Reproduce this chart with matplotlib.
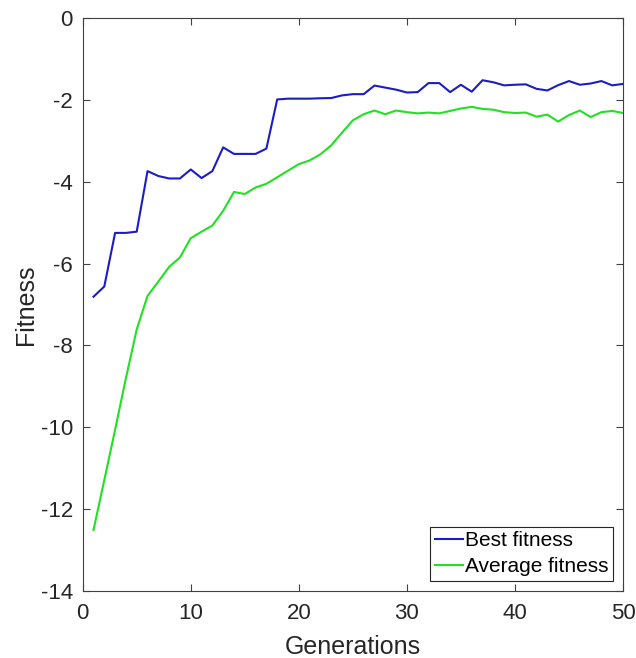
import matplotlib
matplotlib.use('Agg')
import matplotlib.pyplot as plt

plt.rcParams['font.family'] = ['Liberation Sans', 'DejaVu Sans']
plt.rcParams['axes.unicode_minus'] = False

# values, one per generation
generations = list(range(1, 51))
best_fitness = [-6.81, -6.56, -5.25, -5.25, -5.22, -3.74, -3.86, -3.92, -3.92, -3.70,
                -3.91, -3.74, -3.16, -3.32, -3.32, -3.32, -3.19, -1.99, -1.97, -1.97,
                -1.97, -1.96, -1.955, -1.89, -1.86, -1.86, -1.65, -1.70, -1.75, -1.82,
                -1.81, -1.59, -1.59, -1.81, -1.63, -1.80, -1.52, -1.57, -1.645, -1.63,
                -1.62, -1.73, -1.77, -1.64, -1.54, -1.63, -1.60, -1.54, -1.645, -1.61]
avg_fitness = [-12.51, -11.29, -10.06, -8.80, -7.61, -6.79, -6.44, -6.08, -5.85, -5.38,
               -5.22, -5.07, -4.71, -4.25, -4.30, -4.14, -4.05, -3.89, -3.73, -3.57,
               -3.48, -3.33, -3.11, -2.80, -2.50, -2.35, -2.26, -2.35, -2.26, -2.30,
               -2.33, -2.31, -2.33, -2.27, -2.21, -2.17, -2.22, -2.24, -2.30, -2.32,
               -2.31, -2.41, -2.36, -2.53, -2.37, -2.26, -2.42, -2.30, -2.27, -2.32]

fig = plt.figure(figsize=(6.36, 6.58), dpi=100)
ax = fig.add_axes([0.130, 0.1018, 0.8496, 0.8708])

ax.plot(generations, best_fitness, color='#1c1cc4', lw=1.5, label='Best fitness')
ax.plot(generations, avg_fitness, color='#22e022', lw=1.5, label='Average fitness')

ax.set_xlim(0, 50)
ax.set_ylim(-14, 0)
ax.set_xticks([0, 10, 20, 30, 40, 50])
ax.set_yticks(range(-14, 1, 2))
ax.tick_params(direction='in', length=5, width=0.8, color='#404040',
               top=True, right=True, labelsize=16, labelcolor='#262626')
ax.tick_params(axis='x', pad=8.5)
ax.tick_params(axis='y', pad=7)
for s in ax.spines.values():
    s.set_color('#404040')
    s.set_linewidth(0.8)

ax.set_xlabel('Generations', fontsize=18, color='#262626')
ax.set_ylabel('Fitness', fontsize=18, color='#262626')
ax.xaxis.set_label_coords(0.5, -0.077)
ax.yaxis.set_label_coords(-0.083, 0.5)

leg = ax.legend(loc='lower right', fontsize=15, handlelength=1.36, handletextpad=0.1,
                labelspacing=0.35, borderpad=0.22, borderaxespad=0.48,
                fancybox=False, framealpha=1, edgecolor='#262626')
leg.get_frame().set_linewidth(0.8)

fig.savefig('out.png', dpi=100)
